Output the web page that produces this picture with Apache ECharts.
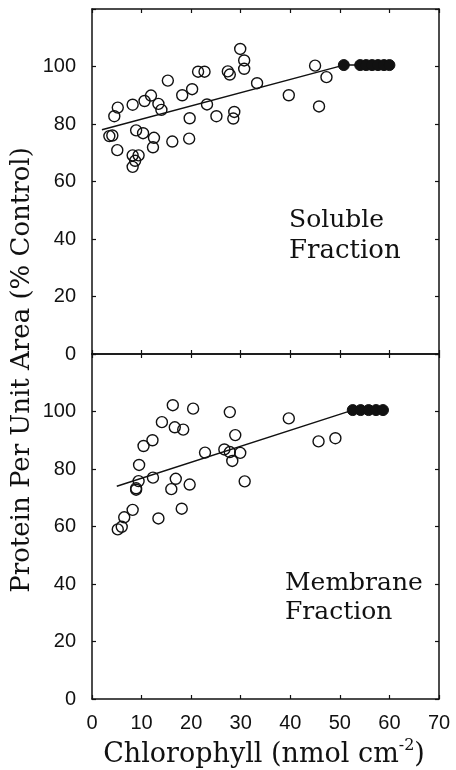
<!DOCTYPE html>
<html>
<head>
<meta charset="utf-8">
<script src="https://cdn.jsdelivr.net/npm/echarts@6/dist/echarts.min.js"></script>
<style>html,body{margin:0;padding:0;background:#fff;}#chart{width:456px;height:770px;}</style>
</head>
<body>
<div id="chart"></div>
<script>
// ---- Data ----
// Soluble fraction, open circles
const solubleOpenX = [3.5,4.1,4.5,5.2,5.1,8.2,8.9,10.3,8.2,9.4,8.7,8.2,10.6,11.9,13.4,14.0,12.5,12.3,15.3,16.2,18.2,20.2,19.7,19.6,21.4,22.7,23.2,25.1,27.4,27.8,28.7,28.5,29.9,30.7,30.7,33.3,39.7,45.0,45.8,47.3];
const solubleOpenY = [75.8,76.0,82.7,85.7,70.9,86.7,77.8,76.8,69.1,69.1,67.2,65.1,88.0,89.9,87.0,84.9,75.2,71.9,95.1,73.9,90.0,92.1,82.0,74.9,98.2,98.2,86.8,82.7,98.3,97.2,84.2,81.9,106.1,102.1,99.2,94.2,90.0,100.3,86.1,96.3];
// Soluble fraction, filled circles (controls)
const solubleFilledX = [50.8,54.1,55.3,56.5,57.7,58.9,60.0];
const solubleFilledY = [100.5,100.5,100.5,100.5,100.5,100.5,100.5];
// Soluble fraction, fitted line
const solubleLineX = [2.0,50.8,60.0];
const solubleLineY = [78.0,100.5,100.5];

// Membrane fraction, open circles
const membraneOpenX = [5.2,6.0,6.5,8.2,13.4,8.9,8.9,9.4,9.5,10.4,12.2,12.3,14.1,16.3,16.7,18.4,20.4,16.0,16.9,18.1,19.7,22.8,26.7,27.8,27.8,28.3,28.9,29.9,30.8,39.7,45.7,49.1];
const membraneOpenY = [59.0,59.9,63.2,65.8,62.8,73.3,72.8,75.8,81.4,88.0,90.0,77.0,96.3,102.2,94.5,93.7,101.0,73.0,76.6,66.2,74.6,85.7,86.8,99.8,85.9,82.8,91.8,85.6,75.7,97.6,89.6,90.7];
// Membrane fraction, filled circles (controls)
const membraneFilledX = [52.6,54.2,55.8,57.3,58.7];
const membraneFilledY = [100.5,100.5,100.5,100.5,100.5];
// Membrane fraction, fitted line
const membraneLineX = [5.0,52.6,58.7];
const membraneLineY = [74.0,100.5,100.5];

// Axis ticks
const xMin = 0, xMax = 70, xStep = 10;
const yMin = 0, yMax = 120, yStep = 20;
const panelLabels = [["Soluble", "Fraction"], ["Membrane", "Fraction"]];
const xTitle = ["Chlorophyll (nmol cm", "-2", ")"];
const yTitle = "Protein Per Unit Area (% Control)";

const pairs = (xs, ys) => xs.map((x, i) => [x, ys[i]]);

const BLACK = '#111';
const tickFont = 'Liberation Sans';
const serif = 'DejaVu Serif';

function xAx(grid, pos, labels) {
  return {
    type: 'value', gridIndex: grid, position: pos, min: xMin, max: xMax, interval: xStep,
    axisLine: { show: true, onZero: false, lineStyle: { color: BLACK, width: 1.5 } },
    axisTick: { show: true, inside: true, length: 4, lineStyle: { color: BLACK, width: 1.2 } },
    axisLabel: { show: labels, color: BLACK, fontFamily: tickFont, fontSize: 20, margin: 14 },
    splitLine: { show: false }
  };
}
function yAx(grid, pos, labels) {
  return {
    type: 'value', gridIndex: grid, position: pos, min: yMin, max: yMax, interval: yStep,
    axisLine: { show: true, onZero: false, lineStyle: { color: BLACK, width: 1.5 } },
    axisTick: { show: true, inside: true, length: 4, lineStyle: { color: BLACK, width: 1.2 } },
    axisLabel: { show: labels, color: BLACK, fontFamily: tickFont, fontSize: 20, margin: 16,
      formatter: v => (v === yMax ? '' : String(v)) },
    splitLine: { show: false }
  };
}

const openStyle = { color: 'rgba(0,0,0,0)', borderColor: BLACK, borderWidth: 1.4, opacity: 1 };
const filledStyle = { color: BLACK, borderColor: BLACK, borderWidth: 1, opacity: 1 };

function panelSeries(xi, yi, openX, openY, fillX, fillY, lineX, lineY) {
  return [
    { type: 'line', xAxisIndex: xi, yAxisIndex: yi, data: pairs(lineX, lineY), showSymbol: false,
      lineStyle: { color: BLACK, width: 1.4 }, silent: true, z: 2 },
    { type: 'scatter', xAxisIndex: xi, yAxisIndex: yi, data: pairs(openX, openY), symbol: 'circle',
      symbolSize: 11, itemStyle: openStyle, z: 3 },
    { type: 'scatter', xAxisIndex: xi, yAxisIndex: yi, data: pairs(fillX, fillY), symbol: 'circle',
      symbolSize: 11, itemStyle: filledStyle, z: 4 }
  ];
}

const chart = echarts.init(document.getElementById('chart'), null, { renderer: 'canvas' });
chart.setOption({
  animation: false,
  backgroundColor: '#fff',
  grid: [
    { left: 92, top: 9, width: 347, height: 345 },
    { left: 92, top: 354, width: 347, height: 345 }
  ],
  xAxis: [xAx(0, 'bottom', false), xAx(0, 'top', false), xAx(1, 'bottom', true), xAx(1, 'top', false)],
  yAxis: [yAx(0, 'left', true), yAx(0, 'right', false), yAx(1, 'left', true), yAx(1, 'right', false)],
  series: [
    ...panelSeries(0, 0, solubleOpenX, solubleOpenY, solubleFilledX, solubleFilledY, solubleLineX, solubleLineY),
    ...panelSeries(2, 2, membraneOpenX, membraneOpenY, membraneFilledX, membraneFilledY, membraneLineX, membraneLineY)
  ],
  graphic: [
    { type: 'text', left: 289, top: 208, style: { text: panelLabels[0][0], font: '25px "' + serif + '"', fill: BLACK } },
    { type: 'text', left: 289, top: 238, style: { text: panelLabels[0][1], font: '26px "' + serif + '"', fill: BLACK } },
    { type: 'text', left: 285, top: 571, style: { text: panelLabels[1][0], font: '25px "' + serif + '"', fill: BLACK } },
    { type: 'text', left: 285, top: 600, style: { text: panelLabels[1][1], font: '25px "' + serif + '"', fill: BLACK } },
    { type: 'text', x: 22, y: 370, rotation: Math.PI / 2,
      style: { text: yTitle, font: '26px "' + serif + '"', fill: BLACK, textAlign: 'center', textVerticalAlign: 'middle' } },
    { type: 'text', x: 264, y: 755,
      style: { text: '{a|' + xTitle[0] + '}{s|' + xTitle[1] + '}{a|' + xTitle[2] + '}',
        textAlign: 'center', textVerticalAlign: 'middle',
        rich: {
          a: { fontFamily: serif, fontSize: 27, fill: BLACK, color: BLACK },
          s: { fontFamily: serif, fontSize: 16, fill: BLACK, color: BLACK, padding: [0, 0, 18, 0] }
        } } }
  ]
});
</script>
</body>
</html>
